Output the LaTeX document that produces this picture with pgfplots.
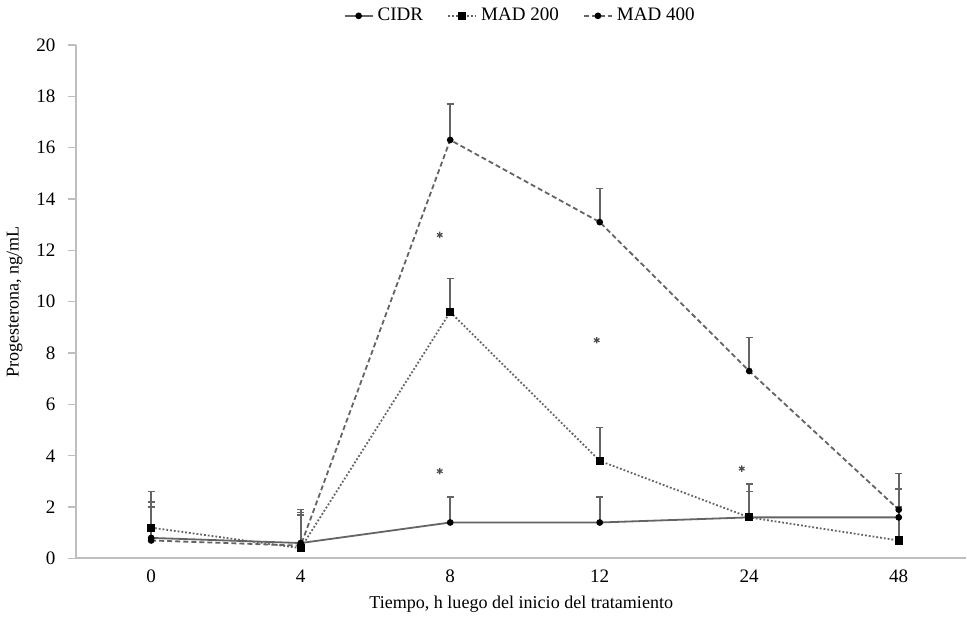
\documentclass[border=0pt]{standalone}
\usepackage{pgfplots}
\pgfplotsset{compat=1.18}
\usepackage{fontspec}
\setmainfont{Liberation Serif}
\definecolor{axgray}{RGB}{190,190,190}
\definecolor{ln}{RGB}{100,100,100}
\begin{document}
\begin{tikzpicture}
\begin{axis}[
  scale only axis,
  width=443.5pt, height=256pt,
  xmin=-0.5, xmax=5.45,
  ymin=0, ymax=20,
  ytick={0,2,...,20},
  xtick={0,1,2,3,4,5},
  xticklabels={0,4,8,12,24,48},
  extra x ticks={0.5,1.5,2.5,3.5,4.5},
  extra x tick labels={},
  extra x tick style={major tick length=3pt, tick style={axgray}},
  axis x line*=bottom, axis y line*=left,
  axis line style={axgray, line width=1pt},
  tick style={axgray, line width=0.6pt},
  tick align=outside,
  major x tick style={draw=none},
  major tick length=4pt,
  tick label style={font=\fontsize{9.5}{11}\selectfont},
  xticklabel style={yshift=2pt},
  yticklabel style={xshift=-3pt},
  /pgf/number format/assume math mode=true,
  xlabel={Tiempo, h luego del inicio del tratamiento},
  ylabel={Progesterona, ng/mL},
  label style={font=\fontsize{9}{11}\selectfont},
  xlabel style={yshift=7pt},
  ylabel style={yshift=0pt},
  legend style={at={(0.5,1.025)}, anchor=south, draw=none, legend columns=3,
    font=\fontsize{9.5}{11}\selectfont, /tikz/every even column/.append style={column sep=10pt}},
  legend image code/.code={\draw[#1] (0pt,0pt) -- (14pt,0pt); \draw[#1, solid] plot coordinates {(7pt,0pt)};},
  error bars/y dir=plus, error bars/y explicit,
  error bars/error bar style={ln, line width=0.8pt, solid},
  error bars/error mark options={rotate=90, mark size=1.8pt, ln, line width=0.7pt},
]
\addplot[ln, line width=0.9pt, mark=*, mark size=1.2pt, mark options={black}]
  coordinates {(0,0.8) +- (0,1.4) (1,0.6) +- (0,1.3) (2,1.4) +- (0,1.0) (3,1.4) +- (0,1.0) (4,1.6) +- (0,1.0) (5,1.6) +- (0,1.1)};
\addlegendentry{CIDR}
\addplot[ln, line width=0.9pt, densely dotted, mark=square*, mark size=1.6pt, mark options={black, solid}]
  coordinates {(0,1.2) +- (0,1.4) (1,0.4) +- (0,1.3) (2,9.6) +- (0,1.3) (3,3.8) +- (0,1.3) (4,1.6) +- (0,1.3) (5,0.7) +- (0,1.3)};
\addlegendentry{MAD 200}
\addplot[ln, line width=0.9pt, dash pattern=on 2.5pt off 1.5pt, mark=*, mark size=1.2pt, mark options={black, solid}]
  coordinates {(0,0.7) +- (0,1.3) (1,0.5) +- (0,1.3) (2,16.3) +- (0,1.4) (3,13.1) +- (0,1.3) (4,7.3) +- (0,1.3) (5,1.9) +- (0,1.4)};
\addlegendentry{MAD 400}
\addplot[only marks, mark=asterisk, mark size=1.6pt, black!70, line width=0.6pt, forget plot]
  coordinates {(1.93,12.6) (1.93,3.4) (2.98,8.5) (3.95,3.5)};
\end{axis}
\end{tikzpicture}
\end{document}
